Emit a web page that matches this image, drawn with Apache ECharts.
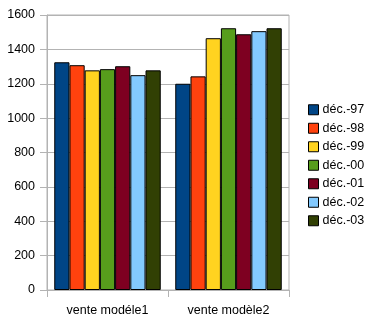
<!DOCTYPE html>
<html>
<head>
<meta charset="utf-8">
<script src="https://cdn.jsdelivr.net/npm/echarts@6/dist/echarts.min.js"></script>
<style>
  html, body { margin: 0; padding: 0; background: #fff; }
  #chart { width: 379px; height: 332px; }
</style>
</head>
<body>
<div id="chart"></div>
<script>
// Sales per model, grouped by December of each year
const categories = ['vente modéle1', 'vente modèle2'];
const seriesNames = ['déc.-97', 'déc.-98', 'déc.-99', 'déc.-00', 'déc.-01', 'déc.-02', 'déc.-03'];
const dec97 = [1325, 1200];
const dec98 = [1308, 1243];
const dec99 = [1278, 1465];
const dec00 = [1285, 1523];
const dec01 = [1302, 1488];
const dec02 = [1250, 1506];
const dec03 = [1278, 1523];
const yTicks = [0, 200, 400, 600, 800, 1000, 1200, 1400, 1600];

const palette = ['#004586', '#ff420e', '#ffd320', '#579d1c', '#7e0021', '#83caff', '#314004'];
const values = [dec97, dec98, dec99, dec00, dec01, dec02, dec03];

const chart = echarts.init(document.getElementById('chart'), null, { renderer: 'canvas' });
const gridColor = '#b3b3b3';
const font = 'Liberation Sans, Arial, sans-serif';

chart.setOption({
  animation: false,
  color: palette,
  textStyle: { fontFamily: font },
  grid: {
    left: 47, top: 15, width: 242, height: 275,
    show: true, borderColor: gridColor, borderWidth: 1, containLabel: false
  },
  legend: {
    orient: 'vertical',
    left: 303, top: 98,
    itemWidth: 10, itemHeight: 10, itemGap: 5,
    icon: 'rect',
    data: seriesNames,
    itemStyle: { borderColor: '#000', borderWidth: 1 },
    textStyle: { fontFamily: font, fontSize: 12.5, lineHeight: 13.5, color: '#000', padding: [0, 0, 0, -1] }
  },
  xAxis: {
    type: 'category',
    data: categories,
    axisLine: { show: true, lineStyle: { color: gridColor } },
    axisTick: { show: true, alignWithLabel: false, length: 7, lineStyle: { color: gridColor } },
    axisLabel: { color: '#000', fontSize: 12.5, margin: 14, fontFamily: font },
    splitLine: { show: false }
  },
  yAxis: {
    type: 'value',
    min: yTicks[0], max: yTicks[yTicks.length - 1], interval: 200,
    axisLine: { show: true, lineStyle: { color: gridColor } },
    axisTick: { show: true, length: 7, lineStyle: { color: gridColor } },
    axisLabel: { color: '#000', fontSize: 12.5, margin: 12, fontFamily: font, formatter: v => String(v) },
    splitLine: { show: true, lineStyle: { color: gridColor, width: 1 } }
  },
  series: seriesNames.map((name, i) => ({
    name,
    type: 'bar',
    data: values[i],
    barGap: '0%',
    barCategoryGap: '12%',
    itemStyle: { color: palette[i], borderColor: '#000', borderWidth: 1 }
  }))
});
</script>
</body>
</html>
